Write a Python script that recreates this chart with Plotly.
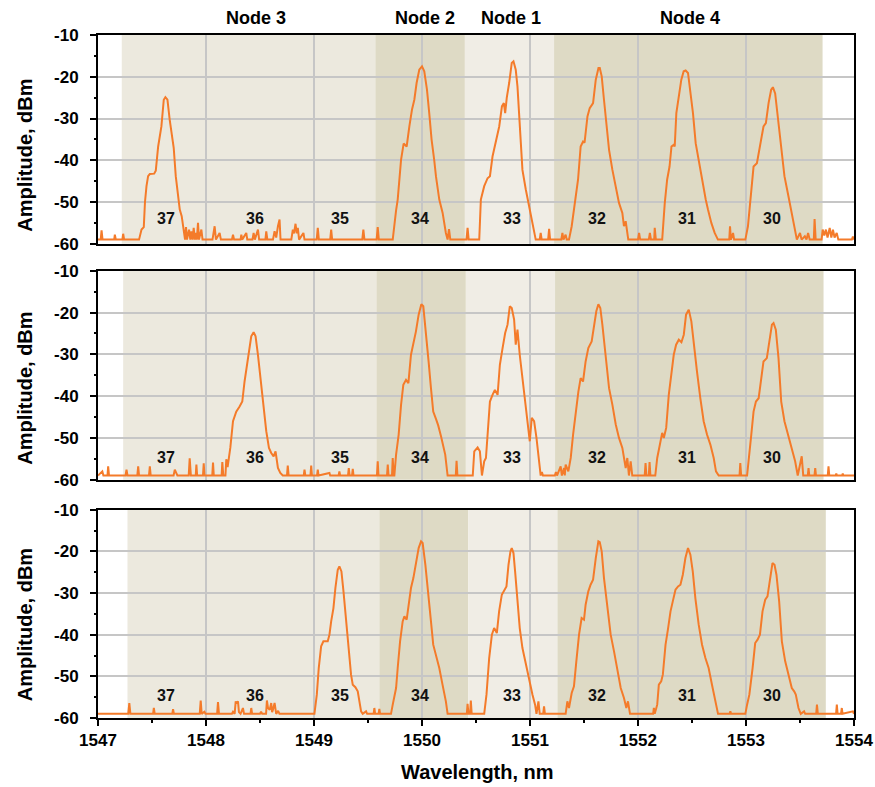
import plotly.graph_objects as go
from plotly.subplots import make_subplots

# ---------------- data ----------------
X_RANGE = [1547, 1554]
Y_RANGE = [-60, -10]
X_TICKS = [1547, 1548, 1549, 1550, 1551, 1552, 1553, 1554]
Y_TICKS = [-60, -50, -40, -30, -20, -10]
Y_TICK_TEXT = ["-60", "-50", "-40", "-30", "-20", "-10"]

CHANNELS = ["37", "36", "35", "34", "33", "32", "31", "30"]
CHANNEL_WL = [1547.63, 1548.45, 1549.24, 1549.98, 1550.83, 1551.62, 1552.45, 1553.24]

NODE_NAMES = ["Node 3", "Node 2", "Node 1", "Node 4"]
NODE_LABEL_WL = [1548.46, 1550.03, 1550.82, 1552.48]

# band edges (start of Node 3, Node 2, Node 1, Node 4, end of Node 4) per panel
BANDS_TOP = [1547.22, 1549.568, 1550.397, 1551.223, 1553.709]
BANDS_MID = [1547.233, 1549.578, 1550.406, 1551.232, 1553.718]
BANDS_BOT = [1547.273, 1549.605, 1550.428, 1551.254, 1553.739]

SPEC_TOP = [
    (1547.000, -59), (1547.025, -59), (1547.033, -56.8), (1547.042, -59), (1547.150, -59), (1547.156, -57.8),
    (1547.165, -59), (1547.226, -59), (1547.233, -57.6), (1547.242, -59),
    (1547.380, -59), (1547.395, -57.5), (1547.403, -56.6), (1547.424, -56.0), (1547.435, -50), (1547.449, -46.2),
    (1547.464, -43.8), (1547.480, -43.3), (1547.495, -43.2), (1547.520, -43.2), (1547.535, -42.5), (1547.557, -36.7),
    (1547.587, -31.9), (1547.609, -25.5), (1547.624, -24.9), (1547.643, -25.5), (1547.664, -30.3), (1547.686, -35),
    (1547.701, -37), (1547.720, -43.8), (1547.741, -48.6), (1547.757, -51.8), (1547.775, -53.4), (1547.794, -56.6),
    (1547.806, -59), (1547.815, -56), (1547.824, -59), (1547.843, -56.6), (1547.855, -59), (1547.865, -57),
    (1547.876, -59), (1547.886, -56.2), (1547.897, -59), (1547.905, -57.4), (1547.915, -59), (1547.926, -55.0),
    (1547.935, -59), (1547.957, -56.6), (1547.968, -59), (1548.060, -59), (1548.080, -55.8), (1548.092, -59),
    (1548.126, -57.4), (1548.138, -59), (1548.240, -59), (1548.250, -57.8), (1548.260, -59), (1548.320, -59),
    (1548.327, -57.8), (1548.335, -59), (1548.373, -57.4), (1548.382, -59), (1548.430, -59), (1548.441, -57.4),
    (1548.452, -59), (1548.481, -56.6), (1548.492, -59), (1548.550, -59), (1548.558, -57.0), (1548.568, -59),
    (1548.620, -59), (1548.635, -57), (1548.650, -58.5), (1548.666, -55.8), (1548.681, -54.2), (1548.690, -59),
    (1548.790, -59), (1548.804, -56.6), (1548.815, -57.5), (1548.829, -55.2), (1548.840, -57.5), (1548.850, -56.2),
    (1548.862, -59), (1548.902, -57.4), (1548.912, -59), (1549.025, -59), (1549.035, -56.2), (1549.045, -59),
    (1549.150, -59), (1549.159, -56.6), (1549.168, -59), (1549.447, -59), (1549.457, -56.6), (1549.467, -59),
    (1549.580, -59), (1549.590, -56.0), (1549.600, -59),
    (1549.729, -59), (1549.744, -55), (1549.760, -52), (1549.775, -49.4), (1549.790, -44), (1549.806, -39.9),
    (1549.830, -36), (1549.858, -36.7), (1549.883, -31.9), (1549.907, -27.9), (1549.929, -25.5), (1549.950, -21.5),
    (1549.975, -18.3), (1550.000, -17.5), (1550.021, -18.7), (1550.046, -23.1), (1550.067, -28.7), (1550.089, -35.1),
    (1550.113, -39.9), (1550.130, -44), (1550.160, -49.4), (1550.191, -52.6), (1550.221, -57.4), (1550.237, -59),
    (1550.250, -56.5), (1550.262, -59), (1550.412, -59), (1550.422, -56.2), (1550.432, -59),
    (1550.530, -59), (1550.545, -49.4), (1550.576, -46.2), (1550.607, -44.3), (1550.629, -43.8), (1550.653, -39.1),
    (1550.684, -35.1), (1550.715, -31.9), (1550.740, -27.1), (1550.758, -26.3), (1550.770, -28.7), (1550.785, -25),
    (1550.807, -21.5), (1550.831, -16.7), (1550.847, -16.3), (1550.868, -18.3), (1550.884, -22.3), (1550.899, -29.5),
    (1550.915, -37.5), (1550.930, -42.3), (1550.961, -47), (1550.992, -51), (1551.023, -55.8), (1551.053, -59),
    (1551.090, -59), (1551.099, -57.4), (1551.108, -59), (1551.168, -59), (1551.177, -56.4), (1551.186, -59),
    (1551.290, -59), (1551.300, -57.4), (1551.310, -59), (1551.330, -57.8), (1551.340, -59),
    (1551.361, -59), (1551.386, -55.8), (1551.399, -53.4), (1551.424, -49.4), (1551.445, -44.6), (1551.469, -36.7),
    (1551.491, -35.5), (1551.505, -35.8), (1551.532, -29.5), (1551.553, -27.5), (1551.584, -26.3), (1551.609, -20.7),
    (1551.634, -17.9), (1551.646, -17.9), (1551.664, -19.9), (1551.685, -25.5), (1551.707, -31.9), (1551.732, -37.5),
    (1551.763, -42.3), (1551.794, -46.2), (1551.824, -50.2), (1551.855, -52.6), (1551.870, -55.8), (1551.886, -54.6),
    (1551.910, -59), (1552.000, -59), (1552.010, -57.4), (1552.020, -59), (1552.100, -59), (1552.110, -57.4),
    (1552.120, -59), (1552.150, -59), (1552.155, -56.2), (1552.165, -59),
    (1552.224, -59), (1552.248, -50.2), (1552.270, -44.6), (1552.292, -41.5), (1552.310, -36.7), (1552.331, -36.3),
    (1552.340, -36.7), (1552.355, -28.7), (1552.380, -24.7), (1552.401, -20.7), (1552.423, -18.7), (1552.441, -18.5),
    (1552.463, -19.1), (1552.484, -23.1), (1552.509, -28.7), (1552.534, -35.9), (1552.565, -40.7), (1552.596, -44.6),
    (1552.627, -49.4), (1552.648, -51.8), (1552.679, -55), (1552.710, -57.4), (1552.740, -59), (1552.845, -59),
    (1552.852, -55.8), (1552.860, -59), (1552.880, -57.4), (1552.890, -59),
    (1552.994, -59), (1553.018, -55.8), (1553.039, -49.4), (1553.070, -41.5), (1553.101, -40.7), (1553.131, -36.7),
    (1553.162, -31.9), (1553.184, -31.1), (1553.209, -26.3), (1553.233, -23.1), (1553.249, -22.5), (1553.270, -24),
    (1553.295, -29.5), (1553.326, -37.5), (1553.356, -43.8), (1553.393, -48.6), (1553.424, -52.6), (1553.439, -54.2),
    (1553.456, -56.6), (1553.471, -59), (1553.500, -57.4), (1553.515, -59), (1553.545, -58.2), (1553.560, -59),
    (1553.575, -57.4), (1553.590, -59), (1553.628, -59), (1553.635, -54.1), (1553.645, -59), (1553.700, -59),
    (1553.710, -56.6), (1553.725, -58), (1553.740, -56.6), (1553.755, -58.5), (1553.775, -56.2), (1553.790, -58.5),
    (1553.805, -56.6), (1553.820, -58.5), (1553.840, -57.4), (1553.855, -59), (1553.980, -59), (1553.990, -58.3),
    (1554.000, -59),
]

SPEC_MID = [
    (1547.000, -59), (1547.040, -58), (1547.050, -59), (1547.088, -59), (1547.094, -56.8), (1547.102, -59),
    (1547.255, -59), (1547.264, -57.6), (1547.273, -59), (1547.364, -59), (1547.372, -56.8), (1547.380, -59),
    (1547.472, -59), (1547.480, -56.8), (1547.488, -59), (1547.700, -59), (1547.711, -57.6), (1547.722, -58.5),
    (1547.735, -59), (1547.840, -59), (1547.849, -54.9), (1547.860, -59), (1547.905, -59), (1547.911, -56.4),
    (1547.918, -59), (1547.972, -59), (1547.979, -56.1), (1547.986, -59), (1548.058, -59), (1548.065, -55.9),
    (1548.072, -59), (1548.145, -59), (1548.151, -55.8), (1548.160, -59), (1548.180, -59), (1548.188, -55.1),
    (1548.200, -57),
    (1548.213, -54.6), (1548.225, -52.4), (1548.250, -46), (1548.280, -43.7), (1548.311, -42.5), (1548.336, -41.3),
    (1548.357, -36.5), (1548.379, -32.5), (1548.403, -28.5), (1548.419, -25.7), (1548.441, -24.7), (1548.459, -25.7),
    (1548.481, -30.1), (1548.503, -35.7), (1548.527, -41.3), (1548.558, -48.4), (1548.583, -52.4), (1548.604, -53.6),
    (1548.626, -54.4), (1548.644, -53.2), (1548.666, -57.2), (1548.688, -58.4), (1548.711, -59), (1548.750, -59),
    (1548.757, -56.6), (1548.765, -59), (1548.905, -59), (1548.912, -57.6), (1548.920, -59), (1548.967, -59),
    (1548.974, -56.6), (1548.981, -59), (1549.028, -59), (1549.035, -57.6), (1549.042, -59), (1549.143, -58.4),
    (1549.150, -59), (1549.228, -59), (1549.235, -58), (1549.242, -59), (1549.315, -59), (1549.322, -57.2),
    (1549.330, -59), (1549.352, -59), (1549.359, -57.4), (1549.366, -59), (1549.583, -59), (1549.590, -55.6),
    (1549.597, -59), (1549.676, -59), (1549.683, -56.4), (1549.690, -59), (1549.722, -59), (1549.729, -54.8),
    (1549.737, -59), (1549.744, -59),
    (1549.760, -54), (1549.784, -49.2), (1549.806, -42.1), (1549.827, -37.3), (1549.852, -36.1), (1549.874, -36.9),
    (1549.898, -30.1), (1549.920, -27.7), (1549.944, -24.5), (1549.969, -20.5), (1549.994, -18), (1550.012, -18.5),
    (1550.037, -24.5), (1550.061, -31.7), (1550.083, -38.1), (1550.104, -43.7), (1550.130, -45.5), (1550.150, -47),
    (1550.176, -49.6), (1550.206, -52.5), (1550.215, -54), (1550.237, -59), (1550.313, -59), (1550.320, -55.5),
    (1550.328, -59), (1550.470, -59), (1550.484, -53.2), (1550.515, -52.3), (1550.536, -53.2), (1550.555, -59),
    (1550.576, -55.6), (1550.592, -54.8),
    (1550.607, -49.2), (1550.629, -41.3), (1550.653, -39.7), (1550.675, -38.5), (1550.700, -39.7), (1550.721, -32.5),
    (1550.746, -28.5), (1550.770, -24.9), (1550.792, -22.9), (1550.813, -18.5), (1550.831, -18.9), (1550.853, -21.7),
    (1550.868, -27.7), (1550.884, -24.1), (1550.905, -30.1), (1550.930, -35.7), (1550.955, -41.3), (1550.976, -46.8),
    (1550.998, -50.8), (1551.016, -45.2), (1551.038, -46), (1551.060, -50), (1551.084, -55.6), (1551.099, -59),
    (1551.110, -58.2), (1551.120, -59), (1551.230, -59), (1551.240, -58.2), (1551.250, -59), (1551.284, -56.8),
    (1551.295, -59), (1551.315, -57.2), (1551.322, -59), (1551.330, -56.4), (1551.355, -58),
    (1551.377, -54.8), (1551.399, -49.2), (1551.424, -43.7), (1551.448, -38.9), (1551.469, -35.7), (1551.491, -36.5),
    (1551.515, -31.7), (1551.540, -28.5), (1551.571, -26.9), (1551.593, -23.7), (1551.614, -19.7), (1551.633, -18),
    (1551.651, -18.9), (1551.670, -22.9), (1551.701, -30.1), (1551.732, -38.1), (1551.763, -42.1), (1551.794, -46.8),
    (1551.824, -50), (1551.855, -52.4), (1551.886, -57.2), (1551.901, -54.8), (1551.916, -59), (1551.932, -55.6),
    (1551.947, -59), (1552.062, -59), (1552.070, -56), (1552.078, -59), (1552.100, -59), (1552.107, -55.8),
    (1552.115, -59), (1552.160, -59),
    (1552.178, -54.8), (1552.200, -51.6), (1552.224, -48.8), (1552.239, -50), (1552.261, -47.6), (1552.285, -39.7),
    (1552.310, -34.9), (1552.331, -30.1), (1552.353, -27.7), (1552.378, -26.5), (1552.402, -27.1), (1552.424, -25.3),
    (1552.445, -20.5), (1552.470, -19.3), (1552.494, -22.1), (1552.516, -27.7), (1552.546, -34.1), (1552.577, -40.5),
    (1552.608, -46), (1552.639, -49.2), (1552.670, -51.6), (1552.701, -54.8), (1552.722, -58), (1552.747, -59),
    (1552.940, -59), (1552.947, -56), (1552.955, -59), (1553.010, -59),
    (1553.025, -55.6), (1553.049, -49.2), (1553.070, -43.7), (1553.092, -41.3), (1553.117, -40.5), (1553.141, -35.7),
    (1553.162, -31.7), (1553.193, -30.9), (1553.215, -26.9), (1553.240, -22.9), (1553.255, -22.5), (1553.276, -24.1),
    (1553.301, -30.9), (1553.326, -41.3), (1553.356, -46), (1553.387, -49.2), (1553.418, -52.4), (1553.455, -55.6),
    (1553.479, -59), (1553.501, -56.6), (1553.516, -54.4), (1553.530, -59), (1553.572, -59), (1553.579, -57.2),
    (1553.586, -59), (1553.634, -59), (1553.641, -57.2), (1553.648, -59), (1553.757, -59), (1553.764, -56.8),
    (1553.771, -59), (1553.830, -59), (1553.836, -58.5), (1553.842, -59), (1553.890, -59), (1553.896, -58.5),
    (1553.902, -59), (1554.000, -59),
]

SPEC_BOT = [
    (1547.000, -59), (1547.280, -59), (1547.290, -56.4), (1547.300, -59), (1547.510, -59), (1547.517, -57.6),
    (1547.525, -59), (1547.688, -59), (1547.695, -57.9), (1547.703, -59), (1547.942, -59), (1547.951, -55.8),
    (1547.960, -59), (1547.985, -58.5), (1547.995, -59), (1548.103, -59), (1548.111, -56.2), (1548.120, -59),
    (1548.240, -59), (1548.250, -58.5), (1548.265, -59), (1548.275, -56), (1548.285, -56.5), (1548.296, -56),
    (1548.305, -58.6), (1548.320, -59), (1548.342, -57.6), (1548.352, -59), (1548.412, -59), (1548.419, -57.6),
    (1548.427, -59), (1548.500, -59), (1548.510, -58.5), (1548.520, -59), (1548.556, -59), (1548.564, -55.8),
    (1548.574, -57.6), (1548.590, -58), (1548.604, -56.4), (1548.612, -58.6), (1548.620, -58), (1548.635, -56.4),
    (1548.650, -59), (1548.668, -58.3), (1548.680, -59),
    (1549.004, -59), (1549.026, -54.4), (1549.044, -48), (1549.066, -42.8), (1549.087, -41.6), (1549.127, -41.6),
    (1549.143, -40), (1549.159, -36.8), (1549.180, -33.6), (1549.198, -28.8), (1549.220, -24.4), (1549.235, -23.6),
    (1549.254, -24.8), (1549.273, -29.6), (1549.297, -36.8), (1549.322, -43.2), (1549.343, -49.6), (1549.359, -52),
    (1549.383, -52.6), (1549.405, -53.6), (1549.420, -56), (1549.436, -58.4), (1549.451, -59), (1549.482, -58.4),
    (1549.492, -59), (1549.552, -59), (1549.559, -57.6), (1549.566, -59), (1549.598, -59), (1549.605, -57.8),
    (1549.612, -59), (1549.713, -59),
    (1549.729, -56.8), (1549.744, -55.2), (1549.760, -52.8), (1549.775, -48), (1549.797, -41.6), (1549.821, -36.8),
    (1549.837, -35.6), (1549.858, -36.4), (1549.877, -32.8), (1549.898, -28.8), (1549.920, -26.4), (1549.944, -22.4),
    (1549.969, -19.2), (1549.991, -17.6), (1550.006, -18), (1550.031, -23.2), (1550.055, -30.4), (1550.083, -36.8),
    (1550.104, -42.4), (1550.135, -45.6), (1550.160, -48), (1550.190, -52), (1550.221, -56), (1550.237, -59),
    (1550.415, -59), (1550.422, -56.6), (1550.430, -59), (1550.445, -59), (1550.452, -55.8), (1550.460, -59),
    (1550.576, -59),
    (1550.597, -54.4), (1550.622, -45.6), (1550.647, -40), (1550.668, -38.4), (1550.693, -39.6), (1550.714, -34.4),
    (1550.739, -30.4), (1550.761, -29.2), (1550.782, -28.4), (1550.801, -23.2), (1550.819, -20), (1550.831, -19.2),
    (1550.847, -20.4), (1550.862, -24.8), (1550.884, -32), (1550.905, -38.4), (1550.930, -43.2), (1550.961, -47.2),
    (1550.992, -51.2), (1551.023, -54.4), (1551.047, -56.8), (1551.060, -59), (1551.078, -56), (1551.090, -59),
    (1551.122, -59), (1551.130, -57.2), (1551.138, -59), (1551.330, -59), (1551.346, -56),
    (1551.361, -57.6), (1551.386, -54), (1551.407, -52.4), (1551.429, -46.4), (1551.454, -40), (1551.478, -36),
    (1551.500, -36.4), (1551.515, -32.8), (1551.540, -29.6), (1551.561, -28), (1551.584, -26.8), (1551.609, -21.6),
    (1551.633, -17.6), (1551.646, -17.8), (1551.664, -20), (1551.685, -26.4), (1551.716, -32.8), (1551.747, -40),
    (1551.778, -44), (1551.809, -48.8), (1551.840, -52.8), (1551.870, -55.2), (1551.892, -57.6), (1551.907, -56),
    (1551.926, -59), (1552.140, -59), (1552.147, -57.6), (1552.155, -59),
    (1552.178, -56.8), (1552.193, -52), (1552.215, -51.2), (1552.230, -49.6), (1552.255, -42.4), (1552.279, -38.4),
    (1552.301, -34.4), (1552.322, -32), (1552.347, -29.2), (1552.371, -28.4), (1552.393, -28), (1552.415, -25.6),
    (1552.439, -21.6), (1552.463, -19.2), (1552.485, -20.8), (1552.507, -24.8), (1552.531, -31.2), (1552.562, -37.6),
    (1552.593, -42.4), (1552.624, -45.6), (1552.654, -48), (1552.685, -52), (1552.716, -56), (1552.741, -59),
    (1552.848, -59), (1552.855, -58.4), (1552.862, -59), (1552.994, -59),
    (1553.010, -56.8), (1553.031, -54.4), (1553.061, -48), (1553.085, -42), (1553.107, -41.2), (1553.129, -40),
    (1553.153, -34.4), (1553.178, -31.6), (1553.199, -30.8), (1553.221, -27.2), (1553.245, -22.8), (1553.264, -23.2),
    (1553.282, -25.6), (1553.307, -32), (1553.332, -41.6), (1553.363, -46.4), (1553.393, -49.6), (1553.424, -52.8),
    (1553.446, -53.6), (1553.461, -54.4), (1553.486, -57.6), (1553.507, -59), (1553.538, -58.4), (1553.548, -59),
    (1553.650, -59), (1553.657, -56.8), (1553.665, -59), (1553.834, -59), (1553.841, -56.8), (1553.848, -59),
    (1553.880, -59), (1553.887, -57.6), (1553.894, -59), (1553.990, -58.4), (1554.000, -59),
]

CHANNEL_LABEL_DBM = [-54.0, -54.8, -54.6]

# ---------------- styling ----------------
FONT = "Arial, Liberation Sans, sans-serif"
LINE_COLOR = "#F47B2A"
GRID_COLOR = "#C6C6C6"
BAND_COLORS = ["#ECE9DE", "#DEDAC5", "#F0EDE5", "#DEDAC5"]
DOMAINS = [[0.6943, 1.0], [0.3489, 0.6548], [0.0, 0.3049]]
YTITLE_POS = [0.8246, 0.4835, 0.1373]

fig = make_subplots(rows=3, cols=1)

panels = [SPEC_TOP, SPEC_MID, SPEC_BOT]
bands = [BANDS_TOP, BANDS_MID, BANDS_BOT]

for i, spec in enumerate(panels):
    r = i + 1
    wl = [p[0] for p in spec]
    dbm = [p[1] for p in spec]
    fig.add_trace(go.Scatter(x=wl, y=dbm, mode="lines",
                             line=dict(color=LINE_COLOR, width=2),
                             showlegend=False, hoverinfo="skip"), row=r, col=1)
    xref = "x" if r == 1 else f"x{r}"
    yref = "y" if r == 1 else f"y{r}"
    edges = bands[i]
    for k in range(4):
        fig.add_shape(type="rect", xref=xref, yref=f"{yref} domain",
                      x0=edges[k], x1=edges[k + 1], y0=0, y1=1,
                      fillcolor=BAND_COLORS[k], line=dict(width=0), layer="below")
    for ch, cx in zip(CHANNELS, CHANNEL_WL):
        fig.add_annotation(x=cx, y=CHANNEL_LABEL_DBM[i], xref=xref, yref=yref, text=ch,
                           showarrow=False, font=dict(family=FONT, size=16, color="#111111", weight="bold"))
    fig.add_annotation(x=-0.0966, y=YTITLE_POS[i], xref="paper", yref="paper",
                       text="Amplitude, dBm", textangle=-90, showarrow=False,
                       xanchor="center", yanchor="middle",
                       font=dict(family=FONT, size=20, color="black", weight="bold"))

    bottom = (r == 3)
    fig.update_xaxes(row=r, col=1, range=X_RANGE, tickvals=X_TICKS, automargin=False,
                     showgrid=True, gridcolor=GRID_COLOR, gridwidth=2,
                     showline=True, linecolor="black", linewidth=2, mirror=True,
                     zeroline=False,
                     showticklabels=bottom,
                     ticks="outside" if bottom else "", ticklen=6, tickwidth=2, tickcolor="black",
                     minor=dict(dtick=0.5, tick0=1547, ticks="outside" if bottom else "",
                                ticklen=3, tickwidth=2, tickcolor="black", showgrid=False),
                     tickfont=dict(family=FONT, size=17, color="black", weight="bold"))
    fig.update_yaxes(row=r, col=1, range=Y_RANGE, tickvals=Y_TICKS, ticktext=Y_TICK_TEXT,
                     domain=DOMAINS[i], automargin=False,
                     showgrid=True, gridcolor=GRID_COLOR, gridwidth=2,
                     showline=True, linecolor="black", linewidth=2, mirror=True,
                     zeroline=False,
                     ticks="outside", ticklen=6, tickwidth=2, tickcolor="black",
                     minor=dict(dtick=5, tick0=-60, ticks="outside", ticklen=2, tickwidth=2,
                                tickcolor="black", showgrid=False),
                     ticklabelstandoff=8,
                     tickfont=dict(family=FONT, size=17, color="black", weight="bold"))

for name, nx in zip(NODE_NAMES, NODE_LABEL_WL):
    fig.add_annotation(x=nx, y=1.0256, xref="x", yref="paper", text=name, showarrow=False,
                       yanchor="middle",
                       font=dict(family=FONT, size=18, color="black", weight="bold"))

fig.add_annotation(x=0.502, y=-0.0786, xref="paper", yref="paper", text="Wavelength, nm",
                   showarrow=False, xanchor="center", yanchor="middle",
                   font=dict(family=FONT, size=20, color="black", weight="bold"))

fig.update_layout(width=875, height=787,
                  margin=dict(l=98, r=21, t=35, b=69, autoexpand=False),
                  paper_bgcolor="white", plot_bgcolor="white",
                  hovermode=False,
                  font=dict(family=FONT))

fig.write_html("out.html", config={"displayModeBar": False},
               post_script="document.body.style.margin='0px';")
